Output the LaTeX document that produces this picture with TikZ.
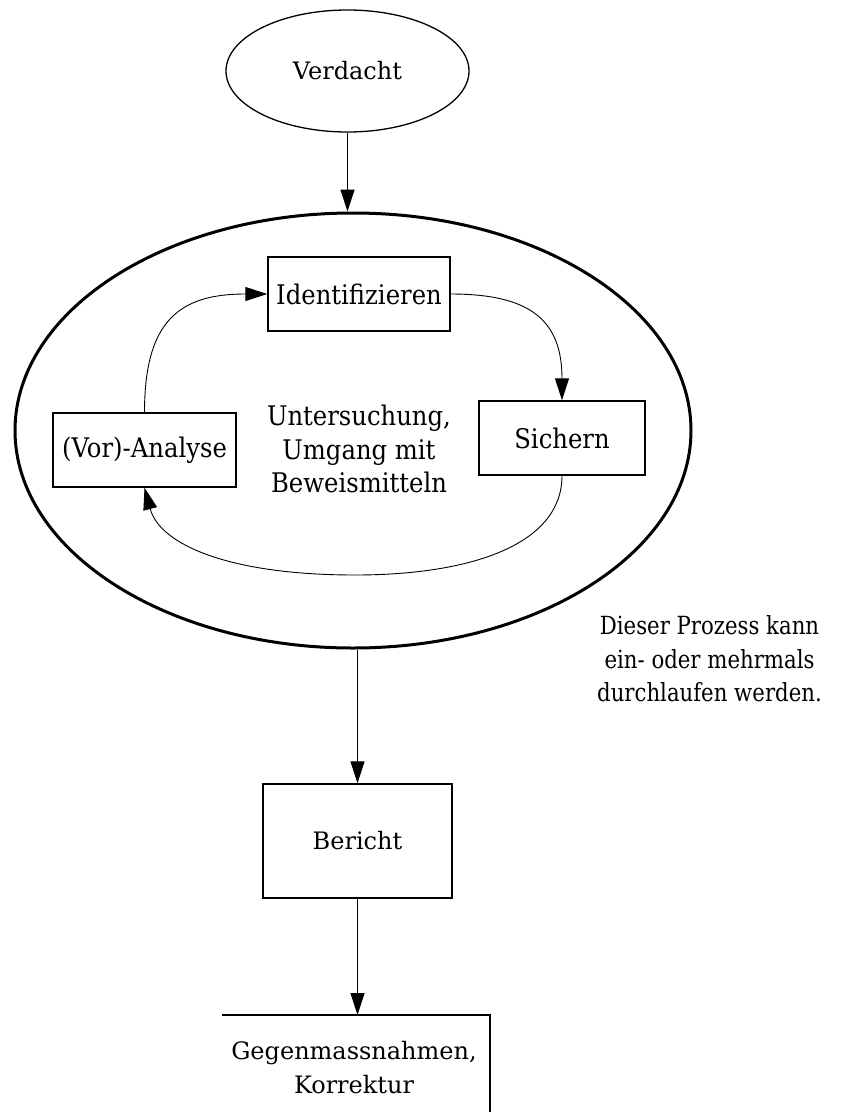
\documentclass[tikz,border=0pt]{standalone}
\usepackage{fontspec}
\setmainfont{DejaVu Serif}
\newfontfamily\condf[FakeStretch=0.9]{DejaVu Serif}
\newfontfamily\notef[FakeStretch=0.85]{DejaVu Serif}
\usetikzlibrary{arrows.meta,shapes.geometric}
\tikzset{
  tip/.style={-{Triangle[length=22pt,width=14pt]}},
  conn/.style={draw, line width=1.3pt, tip},
  loopc/.style={draw, line width=0.9pt, tip},
  boxn/.style={draw, line width=1.4pt, rectangle, inner sep=0pt},
  normtxt/.style={font=\fontsize{24}{34}\selectfont, align=center},
  condtxt/.style={font=\condf\fontsize{27}{33.5}\selectfont, align=center},
  notetxt/.style={font=\notef\fontsize{25}{33.5}\selectfont, align=center},
}
\begin{document}
\begin{tikzpicture}[x=1pt,y=-1pt]
\useasboundingbox (0,0) rectangle (842,1112);
\fill[white] (0,0) rectangle (842,1112);
% Verdacht
\node[draw, line width=1.3pt, ellipse, minimum width=243pt, minimum height=122pt, inner sep=0pt, normtxt] (verd) at (347.5,71) {Verdacht};
% big ellipse
\node[draw, line width=3pt, ellipse, minimum width=676pt, minimum height=435pt, inner sep=0pt] (big) at (353,430.5) {};
% inner boxes
\node[boxn, minimum width=182pt, minimum height=74pt, condtxt] (ident) at (359,294) {Identifizieren};
\node[boxn, minimum width=166pt, minimum height=74pt, condtxt] (sich) at (562,438) {Sichern};
\node[boxn, minimum width=183pt, minimum height=74pt, condtxt] (ana) at (144.5,450) {(Vor)-Analyse};
\node[condtxt] (unt) at (359,449) {Untersuchung,\\Umgang mit\\Beweismitteln};
% note
\node[notetxt] (note) at (709.5,659) {Dieser Prozess kann\\ein- oder mehrmals\\durchlaufen werden.};
% Bericht
\node[boxn, minimum width=189pt, minimum height=114pt, normtxt] (ber) at (357.5,841) {Bericht};
% Gegenmassnahmen (partially visible box)
\coordinate (gtop) at (357.5,1015);
\draw[line width=1.4pt] (222,1015) -- (490,1015) -- (490,1112);
\node[normtxt] (gegen) at (354,1068) {Gegenmassnahmen,\\Korrektur};
% connectors
\draw[conn] (verd.south) -- (verd.south |- big.north);
\draw[conn] (big.south -| ber.north) -- (ber.north);
\draw[conn] (ber.south) -- (gtop);
\coordinate (loopLow) at (355,575);
\draw[loopc] (ana.north) .. controls (144.5,320) and (180,294) .. (ident.west);
\draw[loopc] (ident.east) .. controls (530,294) and (562,320) .. (sich.north);
\draw[loopc] (sich.south) .. controls (562,545) and (470,575) .. (loopLow) .. controls (230,575) and (160,545) .. (ana.south);
\end{tikzpicture}
\end{document}
